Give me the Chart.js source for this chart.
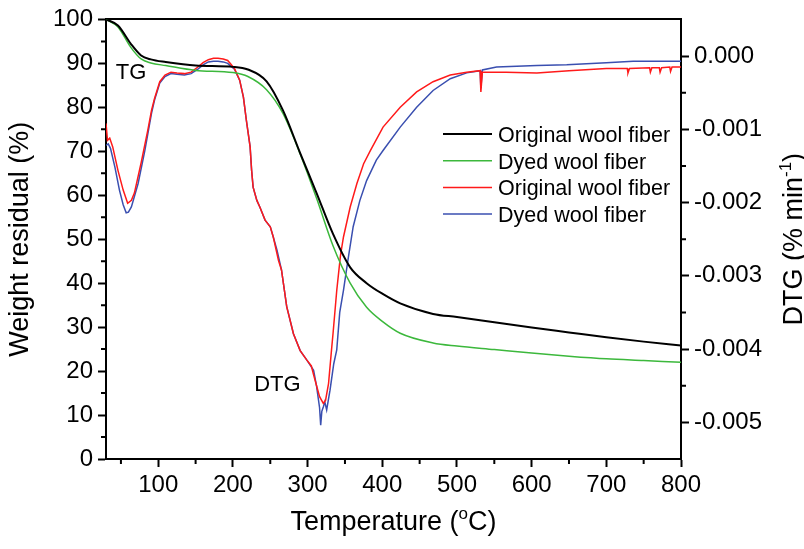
<!DOCTYPE html>
<html>
<head>
<meta charset="utf-8">
<script src="https://cdn.jsdelivr.net/npm/chart.js@4"></script>
<style>
  body { margin: 0; background: #fff; }
  #wrap { width: 804px; height: 549px; }
</style>
</head>
<body>
<div id="wrap"><canvas id="grafico" width="804" height="549"></canvas></div>
<script>
// TG curves (left axis, weight residual %)
const tgTemp = [30, 46, 63, 77, 90, 110, 150, 200, 220, 245, 267, 290, 312, 334, 357, 379, 400, 424, 468, 500, 550, 600, 650, 700, 750, 800];
const tgOriginal = [100, 98.6, 94.5, 91.8, 90.9, 90.3, 89.5, 89.2, 88.6, 85.9, 79.3, 69.6, 60.5, 51.2, 43.6, 40.0, 37.6, 35.4, 33.0, 32.3, 31.1, 29.9, 28.8, 27.7, 26.7, 25.8];
const tgDyed = [100, 98.3, 93.7, 91.0, 90.1, 89.5, 88.4, 87.9, 87.0, 84.0, 78.6, 69.4, 59.3, 48.5, 40.0, 34.5, 31.3, 28.6, 26.4, 25.7, 24.9, 24.1, 23.4, 22.8, 22.4, 22.0];

// DTG curves (right axis, % min-1)
const dtgTempOriginal = [30, 32, 35, 39, 46, 53, 59, 64, 68, 77, 86, 91, 95, 102, 109, 117, 125, 135, 144, 153,
  160, 167, 174, 180, 187, 193, 202, 209, 214, 218, 223, 225, 227, 232, 236, 243, 250, 254, 261, 265,
  272, 281, 290, 299, 305, 308, 312, 316, 321, 324, 328, 332, 334, 339, 344, 348, 357, 366, 375, 384,
  401, 424, 446, 468, 491, 513, 531, 532, 534, 566, 607, 650, 700, 728, 729, 731, 758, 759, 761, 771,
  772, 774, 785, 786, 788, 800];
const dtgOriginal = [-0.00092, -0.00115, -0.00112, -0.00124, -0.00156, -0.00183, -0.00201, -0.00197, -0.00187, -0.00146,
  -0.00101, -0.00074, -0.00058, -0.00035, -0.00026, -0.00022, -0.00023, -0.00024, -0.00022, -0.00015,
  -0.00009, -0.00005, -0.00003, -0.00003, -0.00004, -0.00006, -0.00017, -0.00033, -0.00056, -0.00088,
  -0.00124, -0.00156, -0.00179, -0.00197, -0.00206, -0.00224, -0.00233, -0.00247, -0.00279, -0.00292,
  -0.00342, -0.00379, -0.00402, -0.00415, -0.00423, -0.00435, -0.00450, -0.00465, -0.00474, -0.00470,
  -0.00447, -0.00401, -0.00379, -0.00320, -0.00272, -0.00247, -0.00206, -0.00174, -0.00147, -0.00129,
  -0.00097, -0.00070, -0.00049, -0.00035, -0.00026, -0.00022, -0.00020, -0.00049, -0.00022, -0.00022,
  -0.00023, -0.00020, -0.00017, -0.00017, -0.00023, -0.00017, -0.00016, -0.00022, -0.00016, -0.00016,
  -0.00022, -0.00016, -0.00015, -0.00021, -0.00015, -0.00015];

const dtgTempDyed = [30, 33, 36, 42, 48, 53, 57, 60, 64, 73, 82, 91, 95, 102, 109, 117, 125, 135, 144, 153,
  160, 167, 174, 180, 187, 193, 202, 209, 214, 218, 223, 225, 227, 232, 236, 243, 250, 254, 259, 265,
  272, 281, 290, 299, 308, 312, 316, 317.5, 319, 321, 323, 325.5, 330, 335, 339, 343, 348, 354.5, 361, 370,
  379, 392, 401, 424, 446, 468, 491, 513, 531, 532, 534, 553, 580, 607, 647, 700, 736, 800];
const dtgDyed = [-0.00122, -0.00120, -0.00126, -0.00152, -0.00183, -0.00203, -0.00214, -0.00213, -0.00206, -0.00174,
  -0.00129, -0.00078, -0.00060, -0.00037, -0.00028, -0.00024, -0.00025, -0.00026, -0.00024, -0.00018,
  -0.00012, -0.00008, -0.00007, -0.00007, -0.00008, -0.00010, -0.00018, -0.00033, -0.00056, -0.00088,
  -0.00124, -0.00156, -0.00179, -0.00197, -0.00206, -0.00224, -0.00233, -0.00247, -0.00265, -0.00292,
  -0.00342, -0.00379, -0.00402, -0.00415, -0.00429, -0.00451, -0.00480, -0.00504, -0.00485, -0.00479,
  -0.00472, -0.00483, -0.00456, -0.00420, -0.00401, -0.00350, -0.00320, -0.00275, -0.00233, -0.00197,
  -0.00170, -0.00142, -0.00129, -0.00097, -0.00070, -0.00047, -0.00031, -0.00023, -0.00020, -0.00044,
  -0.00019, -0.00015, -0.00014, -0.00013, -0.00012, -0.00009, -0.00007, -0.00007];

// ticks
const xTicks = [100, 200, 300, 400, 500, 600, 700, 800];
const xMinor = [50, 150, 250, 350, 450, 550, 650, 750];
const yTicks = [0, 10, 20, 30, 40, 50, 60, 70, 80, 90, 100];
const yMinor = [5, 15, 25, 35, 45, 55, 65, 75, 85, 95];
const dtgTicks = [-0.005, -0.004, -0.003, -0.002, -0.001, 0];
const dtgMinor = [-0.0045, -0.0035, -0.0025, -0.0015, -0.0005];

const legendNames = ["Original wool fiber", "Dyed wool fiber", "Original wool fiber", "Dyed wool fiber"];

const fonte = '"Liberation Sans", Arial, sans-serif';

function pares(xs, ys){
  return xs.map((t, i) => ({x: t, y: ys[i]}));
}

// minor ticks, legend, labels and the two custom axis titles
const extras = {
  id: 'extras',
  afterDraw(chart){
    const {ctx, chartArea: a, scales} = chart;
    const x = scales.x, y = scales.y, y2 = scales.y2;
    ctx.save();

    ctx.strokeStyle = '#000';
    ctx.lineWidth = 2;
    ctx.beginPath();
    xMinor.forEach(v => {
      const p = x.getPixelForValue(v);
      ctx.moveTo(p, a.bottom); ctx.lineTo(p, a.bottom + 5);
    });
    yMinor.forEach(v => {
      const p = y.getPixelForValue(v);
      ctx.moveTo(a.left - 5, p); ctx.lineTo(a.left, p);
    });
    dtgMinor.forEach(v => {
      const p = y2.getPixelForValue(v);
      ctx.moveTo(a.right, p); ctx.lineTo(a.right + 5, p);
    });
    ctx.stroke();

    // legend
    ctx.font = '21.5px ' + fonte;
    ctx.textAlign = 'left';
    ctx.textBaseline = 'alphabetic';
    chart.data.datasets.forEach((ds, i) => {
      const ly = 134 + i * 26.7;
      ctx.strokeStyle = ds.borderColor;
      ctx.lineWidth = ds.borderWidth;
      ctx.beginPath();
      ctx.moveTo(443, ly); ctx.lineTo(492, ly);
      ctx.stroke();
      ctx.fillStyle = '#000';
      ctx.fillText(legendNames[i], 498, ly + 8);
    });

    // TG / DTG labels
    ctx.font = '22px ' + fonte;
    ctx.textAlign = 'center';
    ctx.textBaseline = 'middle';
    ctx.fillText('TG', x.getPixelForValue(63.5), y.getPixelForValue(87.8));
    ctx.fillText('DTG', x.getPixelForValue(259.6), y.getPixelForValue(16.8));

    // x title with superscript o
    ctx.textBaseline = 'alphabetic';
    ctx.textAlign = 'left';
    const big = '27px ' + fonte, small = '17px ' + fonte;
    ctx.font = big;
    const w1 = ctx.measureText('Temperature (').width;
    const w3 = ctx.measureText('C)').width;
    ctx.font = small;
    const w2 = ctx.measureText('o').width;
    let sx = (a.left + a.right) / 2 - (w1 + w2 + w3) / 2;
    const by = 530;
    ctx.font = big; ctx.fillText('Temperature (', sx, by);
    ctx.font = small; ctx.fillText('o', sx + w1, by - 11);
    ctx.font = big; ctx.fillText('C)', sx + w1 + w2, by);

    // right title, reading upwards, superscript -1
    ctx.translate(802, (a.top + a.bottom) / 2);
    ctx.rotate(-Math.PI / 2);
    ctx.font = big;
    const r1 = ctx.measureText('DTG (% min').width;
    const r3 = ctx.measureText(')').width;
    ctx.font = small;
    const r2 = ctx.measureText('-1').width;
    sx = -(r1 + r2 + r3) / 2;
    ctx.font = big; ctx.fillText('DTG (% min', sx, 0);
    ctx.font = small; ctx.fillText('-1', sx + r1, -11);
    ctx.font = big; ctx.fillText(')', sx + r1 + r2, 0);

    ctx.restore();
  }
};

const tickFont = {size: 24, family: fonte};

new Chart(document.getElementById('grafico'), {
  type: 'line',
  data: {
    datasets: [
      {
        label: legendNames[0],
        data: pares(tgTemp, tgOriginal),
        yAxisID: 'y',
        borderColor: '#000000',
        borderWidth: 2,
        pointRadius: 0,
        cubicInterpolationMode: 'monotone'
      },
      {
        label: legendNames[1],
        data: pares(tgTemp, tgDyed),
        yAxisID: 'y',
        borderColor: '#3cb83c',
        borderWidth: 1.5,
        pointRadius: 0,
        cubicInterpolationMode: 'monotone'
      },
      {
        label: legendNames[2],
        data: pares(dtgTempOriginal, dtgOriginal),
        yAxisID: 'y2',
        borderColor: '#ff1a1a',
        borderWidth: 1.5,
        pointRadius: 0,
        tension: 0
      },
      {
        label: legendNames[3],
        data: pares(dtgTempDyed, dtgDyed),
        yAxisID: 'y2',
        borderColor: '#3a4fb0',
        borderWidth: 1.5,
        pointRadius: 0,
        tension: 0
      }
    ]
  },
  options: {
    responsive: false,
    animation: false,
    events: [],
    layout: {padding: 0},
    plugins: {
      legend: {display: false},
      tooltip: {enabled: false}
    },
    scales: {
      x: {
        type: 'linear',
        position: 'bottom',
        min: 30,
        max: 800,
        afterBuildTicks: s => { s.ticks = xTicks.map(v => ({value: v})); },
        afterFit: s => { s.height = 90; },
        grid: {drawOnChartArea: false, tickLength: 8, tickWidth: 2, tickColor: '#000'},
        border: {color: '#000', width: 2},
        ticks: {color: '#000', font: tickFont, padding: 4, maxRotation: 0, autoSkip: false}
      },
      xTop: {
        type: 'linear',
        position: 'top',
        min: 30,
        max: 800,
        afterFit: s => { s.height = 19; },
        grid: {drawOnChartArea: false, drawTicks: false},
        border: {color: '#000', width: 2},
        ticks: {display: false}
      },
      y: {
        type: 'linear',
        position: 'left',
        min: 0,
        max: 100,
        afterBuildTicks: s => { s.ticks = yTicks.map(v => ({value: v})); },
        afterFit: s => { s.width = 106; },
        grid: {drawOnChartArea: false, tickLength: 8, tickWidth: 2, tickColor: '#000'},
        border: {color: '#000', width: 2},
        ticks: {color: '#000', font: tickFont, padding: 5, autoSkip: false},
        title: {
          display: true,
          text: 'Weight residual (%)',
          color: '#000',
          font: {size: 27, family: fonte, lineHeight: 1},
          padding: {top: 7, bottom: 0}
        }
      },
      y2: {
        type: 'linear',
        position: 'right',
        min: -0.0055,
        max: 0.0005,
        afterBuildTicks: s => { s.ticks = dtgTicks.map(v => ({value: v})); },
        afterFit: s => { s.width = 123; },
        grid: {drawOnChartArea: false, tickLength: 8, tickWidth: 2, tickColor: '#000'},
        border: {color: '#000', width: 2},
        ticks: {
          color: '#000',
          font: tickFont,
          padding: 5,
          autoSkip: false,
          callback: v => (Math.round(v * 1000) / 1000 === 0 ? 0 : v).toFixed(3)
        }
      }
    }
  },
  plugins: [extras]
});
</script>
</body>
</html>
